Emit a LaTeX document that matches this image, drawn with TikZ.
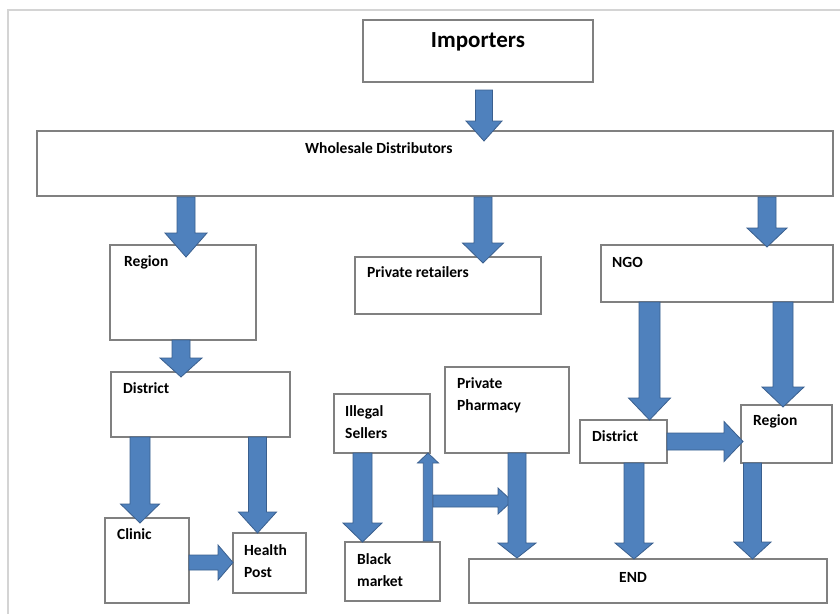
\documentclass[tikz,border=0pt]{standalone}
\usepackage{fontspec}
\setmainfont{Carlito}
\definecolor{arrowfill}{HTML}{4F81BD}
\definecolor{arrowline}{HTML}{3A5F8E}
\definecolor{boxline}{HTML}{808080}
\definecolor{frameline}{HTML}{D4D4D4}
\newcommand\boxnode[5]{\node[box,anchor=north west,minimum width={(#4-#2)*1pt},minimum height={(#5-#3)*1pt}] (#1) at (#2,#3) {};}
% x, base y, tip y, half shaft, half head, head start y
\newcommand\varrow[6]{\draw[blockarrow] ({#1-#4},#2) -- ({#1+#4},#2) -- ({#1+#4},#6) -- ({#1+#5},#6) -- (#1,#3) -- ({#1-#5},#6) -- ({#1-#4},#6) -- cycle;}
% y, base x, tip x, half shaft, half head, head start x
\newcommand\harrow[6]{\draw[blockarrow] (#2,{#1-#4}) -- (#2,{#1+#4}) -- (#6,{#1+#4}) -- (#6,{#1+#5}) -- (#3,#1) -- (#6,{#1-#5}) -- (#6,{#1-#4}) -- cycle;}
\begin{document}
\begin{tikzpicture}[x=1pt,y=-1pt,
  box/.style={draw=boxline,line width=1.2pt,fill=white,inner sep=0pt,outer sep=0pt},
  lbl/.style={font=\fontsize{15.5}{22}\selectfont\bfseries,inner sep=0pt,anchor=west,align=left},
  blockarrow/.style={fill=arrowfill,draw=arrowline,line width=0.8pt,line join=miter}]
\useasboundingbox[fill=white] (0,0) rectangle (840,614);
\draw[frameline,line width=1.2pt] (840,10) -- (8,10) -- (8,614);
% boxes
\boxnode{imp}{363}{20}{593}{82}
\boxnode{wd}{37}{131}{833}{196}
\boxnode{regl}{110}{245}{256}{340}
\boxnode{pret}{355}{257}{541}{314}
\boxnode{ngo}{601}{245}{833}{302}
\boxnode{distl}{111}{372}{290}{437}
\boxnode{clinic}{105}{518}{189}{603}
\boxnode{hpost}{233}{533}{306}{593}
\boxnode{illegal}{334}{394}{430}{453}
\boxnode{pharm}{445}{367}{569}{453}
\boxnode{black}{345}{542}{440}{601}
\boxnode{endb}{469}{559}{827}{603}
\boxnode{distr}{580}{420}{667}{463}
\boxnode{regr}{741}{405}{832}{463}
% arrows
\varrow{484}{90}{141}{8.5}{18}{121}
\varrow{186}{197}{257}{9}{21}{233}
\varrow{483}{197}{263}{9}{20.5}{243}
\varrow{767}{197}{247}{9}{20}{228}
\varrow{181}{340}{377}{9}{21}{358}
\varrow{140}{437}{523}{10}{19.5}{504}
\varrow{257.5}{437}{533}{9}{19}{512}
\harrow{562.5}{189}{233}{7.5}{17.5}{218}
\varrow{362.5}{453}{542}{9.5}{19.5}{523}
\varrow{428}{541}{453}{4.7}{10.5}{463}
\harrow{501}{433}{512}{6}{13}{498}
\varrow{517}{453}{558}{9}{19}{543}
\varrow{649.5}{302}{420}{10.5}{21}{398}
\varrow{783}{302}{407}{10}{21}{387}
\harrow{441.5}{667}{743}{8.5}{20}{724}
\varrow{634}{463}{559}{10}{19}{543}
\varrow{752.5}{463}{559}{9}{18.5}{542}
% labels
\node[font=\fontsize{23}{26}\selectfont\bfseries,inner sep=0pt] (timp) at (478,42) {Importers};
\node[lbl] (twd) at (305,148) {Wholesale Distributors};
\node[lbl] (tregl) at (124,262) {Region};
\node[lbl] (tpret) at (367,272) {Private retailers};
\node[lbl] (tngo) at (612,262) {NGO};
\node[lbl] (tdistl) at (123,388) {District};
\node[lbl] (tclinic) at (117,534) {Clinic};
\node[lbl] (thpost) at (244,561) {Health\\Post};
\node[lbl] (tillegal) at (345,422) {Illegal\\Sellers};
\node[lbl] (tpharm) at (457,395) {Private\\Pharmacy};
\node[lbl] (tblack) at (357,570) {Black\\market};
\node[font=\fontsize{15.5}{22}\selectfont\bfseries,inner sep=0pt] (tend) at (633,577) {END};
\node[lbl] (tdistr) at (592,436) {District};
\node[lbl] (tregr) at (753,421) {Region};
\end{tikzpicture}
\end{document}
